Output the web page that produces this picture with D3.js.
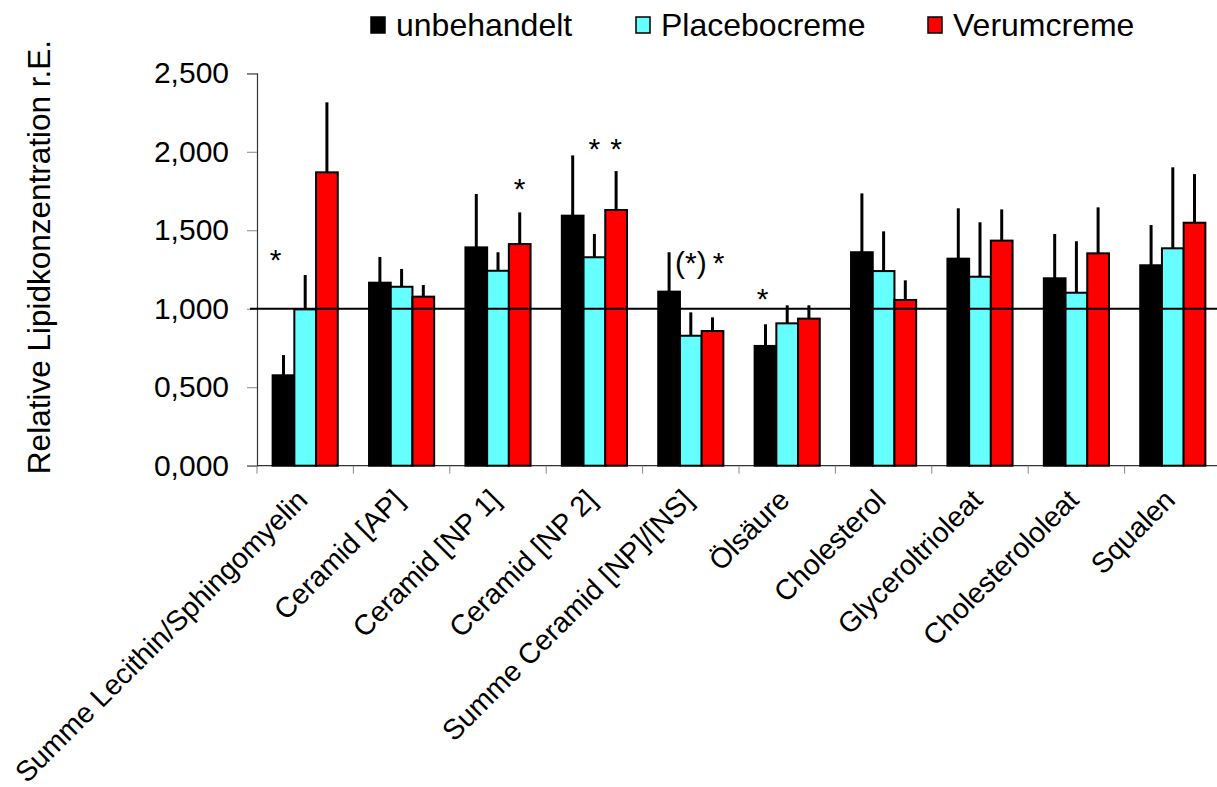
<!DOCTYPE html>
<html>
<head>
<meta charset="utf-8">
<script src="https://cdn.jsdelivr.net/npm/d3@7"></script>
<style>
  body { margin: 0; background: #fff; }
  text { font-family: Arial, "Liberation Sans", sans-serif; fill: #000; }
</style>
</head>
<body>
<div id="chart"></div>
<script>
/************************
 *  Data
 ************************/
const categories = [
  "Summe Lecithin/Sphingomyelin", "Ceramid [AP]", "Ceramid [NP 1]", "Ceramid [NP 2]",
  "Summe Ceramid [NP]/[NS]", "Ölsäure", "Cholesterol", "Glyceroltrioleat",
  "Cholesterololeat", "Squalen"
];
const seriesNames = ["unbehandelt", "Placebocreme", "Verumcreme"];

const unbehandelt   = [0.576, 1.166, 1.391, 1.593, 1.109, 0.763, 1.360, 1.319, 1.194, 1.277];
const unbehandeltSD = [0.129, 0.164, 0.340, 0.384, 0.251, 0.138, 0.375, 0.321, 0.282, 0.256];
const placebo       = [0.996, 1.140, 1.242, 1.328, 0.828, 0.907, 1.240, 1.204, 1.102, 1.385];
const placeboSD     = [0.219, 0.113, 0.118, 0.148, 0.149, 0.115, 0.253, 0.347, 0.328, 0.516];
const verum         = [1.869, 1.077, 1.412, 1.629, 0.858, 0.937, 1.056, 1.434, 1.353, 1.548];
const verumSD       = [0.446, 0.074, 0.202, 0.248, 0.087, 0.085, 0.125, 0.199, 0.293, 0.310];

const yTicks = [0, 0.5, 1.0, 1.5, 2.0, 2.5];
const referenceLevel = 1.0;

// significance marks: category index, series index, text, level of the mark
const marks = [
  { cat: 0, s: 0, text: "*",   level: 1.353 },
  { cat: 2, s: 2, text: "*",   level: 1.809 },
  { cat: 3, s: 1, text: "*",   level: 2.064 },
  { cat: 3, s: 2, text: "*",   level: 2.064 },
  { cat: 4, s: 1, text: "(*)", level: 1.339 },
  { cat: 4, s: 2, text: "*",   level: 1.339 },
  { cat: 5, s: 0, text: "*",   level: 1.109 }
];

/************************
 *  Setup
 ************************/
const width = 1217, height = 787;
const plot = { left: 257, right: 1221, top: 73.3, bottom: 465.7 };
const colors = ["#000000", "#66FFFF", "#FF0000"];
const valuesBySeries = [unbehandelt, placebo, verum];
const sdBySeries = [unbehandeltSD, placeboSD, verumSD];

const rows = categories.map((c, i) => ({
  cat: c,
  bars: seriesNames.map((s, j) => ({ s: j, value: valuesBySeries[j][i], sd: sdBySeries[j][i] }))
}));

const deFormat = d3.formatLocale({ decimal: ",", thousands: ".", grouping: [3], currency: ["", "€"] }).format(".3f");

const svg = d3.select("#chart").append("svg")
  .attr("width", width)
  .attr("height", height);

const x0 = d3.scaleBand().domain(categories).range([plot.left, plot.right]).paddingInner(0).paddingOuter(0);
const x1 = d3.scaleBand().domain(d3.range(seriesNames.length)).range([0, x0.bandwidth()])
  .paddingInner(0).paddingOuter(0.72);
const y = d3.scaleLinear().domain([0, 2.5]).range([plot.bottom, plot.top]);

/************************
 *  Axes
 ************************/
// y axis
const yAxis = svg.append("g").attr("transform", `translate(${plot.left},0)`)
  .call(d3.axisLeft(y).tickValues(yTicks).tickFormat(deFormat).tickSize(10).tickPadding(18));
yAxis.select(".domain").attr("stroke", "#333").attr("stroke-width", 1.2);
yAxis.selectAll(".tick line").attr("stroke", "#888");
yAxis.selectAll(".tick text").style("font-size", "30px").attr("fill", "#000")
  .style("font-family", "Arial, 'Liberation Sans', sans-serif");

// x axis (ticks on category boundaries)
svg.append("line")
  .attr("x1", plot.left).attr("x2", width)
  .attr("y1", plot.bottom).attr("y2", plot.bottom)
  .attr("stroke", "#333").attr("stroke-width", 1.2);
svg.append("g").selectAll("line")
  .data(categories)
  .join("line")
  .attr("x1", d => x0(d)).attr("x2", d => x0(d))
  .attr("y1", plot.bottom).attr("y2", plot.bottom + 8)
  .attr("stroke", "#888");

svg.append("g").selectAll("text")
  .data(categories)
  .join("text")
  .attr("transform", d => `translate(${x0(d) + x0.bandwidth() / 2 + 4},${plot.bottom + 36}) rotate(-45)`)
  .attr("text-anchor", "end")
  .style("font-size", "28.5px")
  .text(d => d);

// y title
svg.append("text")
  .attr("transform", `translate(50,257) rotate(-90)`)
  .attr("text-anchor", "middle")
  .style("font-size", "31.5px")
  .text("Relative Lipidkonzentration r.E.");

/************************
 *  Bars
 ************************/
const groups = svg.append("g").selectAll("g")
  .data(rows)
  .join("g")
  .attr("transform", d => `translate(${x0(d.cat)},0)`);

groups.selectAll("rect")
  .data(d => d.bars)
  .join("rect")
  .attr("x", d => x1(d.s))
  .attr("y", d => y(d.value))
  .attr("width", x1.bandwidth())
  .attr("height", d => y(0) - y(d.value))
  .attr("fill", d => colors[d.s])
  .attr("stroke", "#000")
  .attr("stroke-width", 2);

// error bars, upward only
groups.selectAll("line.err")
  .data(d => d.bars)
  .join("line")
  .attr("class", "err")
  .attr("x1", d => x1(d.s) + x1.bandwidth() / 2)
  .attr("x2", d => x1(d.s) + x1.bandwidth() / 2)
  .attr("y1", d => y(d.value))
  .attr("y2", d => y(d.value + d.sd))
  .attr("stroke", "#000")
  .attr("stroke-width", 3);

// reference line at 1,000
svg.append("line")
  .attr("x1", plot.left - 7).attr("x2", width)
  .attr("y1", y(referenceLevel)).attr("y2", y(referenceLevel))
  .attr("stroke", "#000").attr("stroke-width", 2);

/************************
 *  Significance marks
 ************************/
// small horizontal nudges so the marks sit as in the original
const markNudge = { "0-0": -8, "4-2": 6, "5-0": -3 };
svg.append("g").selectAll("text")
  .data(marks)
  .join("text")
  .attr("x", d => x0(categories[d.cat]) + x1(d.s) + x1.bandwidth() / 2 + (markNudge[d.cat + "-" + d.s] || 0))
  .attr("y", d => y(d.level) + 17)
  .attr("text-anchor", "middle")
  .style("font-size", "30px")
  .text(d => d.text);

/************************
 *  Legend
 ************************/
const legendX = [371, 636, 928];
const legend = svg.append("g").selectAll("g")
  .data(seriesNames)
  .join("g")
  .attr("transform", (d, i) => `translate(${legendX[i]},0)`);
legend.append("rect")
  .attr("x", 0).attr("y", 17)
  .attr("width", 14).attr("height", 16)
  .attr("fill", (d, i) => colors[i])
  .attr("stroke", "#000").attr("stroke-width", 1.5);
legend.append("text")
  .attr("x", 25).attr("y", 36)
  .style("font-size", "32px")
  .text(d => d);
</script>
</body>
</html>
